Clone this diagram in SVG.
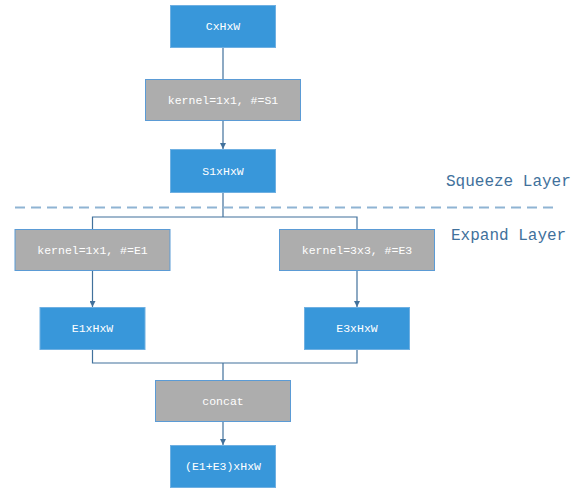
<svg xmlns="http://www.w3.org/2000/svg" width="573" height="492" viewBox="0 0 573 492">
<defs>
<style>
.blue{fill:#3897DA;stroke:#6FB0E2;stroke-width:1}
.gray{fill:#ADADAD;stroke:#5B9BD5;stroke-width:1}
.t{font-family:"Liberation Mono","DejaVu Sans Mono",monospace;font-size:11.5px;fill:#FFFFFF;text-anchor:middle;dominant-baseline:central}
.lbl{font-family:"Liberation Mono","DejaVu Sans Mono",monospace;font-size:16px;fill:#41719C;text-anchor:start}
.c{fill:none;stroke:#41719C;stroke-width:1.2}
.dash{fill:none;stroke:#8FB4D3;stroke-width:2;stroke-dasharray:10,6}
</style>
<marker id="arr" viewBox="0 0 10 10" refX="10" refY="5" markerWidth="6" markerHeight="6" orient="auto" markerUnits="userSpaceOnUse">
<path d="M0,0 L10,5 L0,10 z" fill="#41719C"/>
</marker>
</defs>
<rect width="573" height="492" fill="#FFFFFF"/>
<g id="connectors">
<path class="c" d="M223,47 V79"/>
<path class="c" d="M223,120 V149" marker-end="url(#arr)"/>
<path class="c" d="M223,192 V217 M92.5,229 V217 H357 V229"/>
<path class="c" d="M92.5,270 V307" marker-end="url(#arr)"/>
<path class="c" d="M357,270 V307" marker-end="url(#arr)"/>
<path class="c" d="M92.5,349 V363 H357 V349 M223,363 V380"/>
<path class="c" d="M223,421.5 V445" marker-end="url(#arr)"/>
</g>
<g id="divider">
<path class="dash" d="M15,207.5 H556"/>
<text class="lbl" x="446" y="186">Squeeze Layer</text>
<text class="lbl" x="451" y="240">Expand Layer</text>
</g>
<g id="n_input"><rect class="blue" x="170.5" y="5.5" width="105" height="42"/><text class="t" x="223" y="26">CxHxW</text></g>
<g id="n_squeeze"><rect class="gray" x="145.5" y="79.5" width="155" height="41"/><text class="t" x="223" y="100">kernel=1x1, #=S1</text></g>
<g id="n_s1"><rect class="blue" x="170.5" y="149.5" width="105" height="43"/><text class="t" x="223" y="171">S1xHxW</text></g>
<g id="n_e1k"><rect class="gray" x="15" y="229.5" width="155" height="41"/><text class="t" x="92.5" y="250">kernel=1x1, #=E1</text></g>
<g id="n_e3k"><rect class="gray" x="279.5" y="229.5" width="155" height="41"/><text class="t" x="357" y="250">kernel=3x3, #=E3</text></g>
<g id="n_e1"><rect class="blue" x="40" y="307.5" width="105" height="42"/><text class="t" x="92.5" y="328">E1xHxW</text></g>
<g id="n_e3"><rect class="blue" x="304.5" y="307.5" width="105" height="42"/><text class="t" x="357" y="328">E3xHxW</text></g>
<g id="n_concat"><rect class="gray" x="155.5" y="380.5" width="135" height="41"/><text class="t" x="223" y="401">concat</text></g>
<g id="n_out"><rect class="blue" x="170.5" y="445.5" width="105" height="42"/><text class="t" x="223" y="466">(E1+E3)xHxW</text></g>
</svg>
